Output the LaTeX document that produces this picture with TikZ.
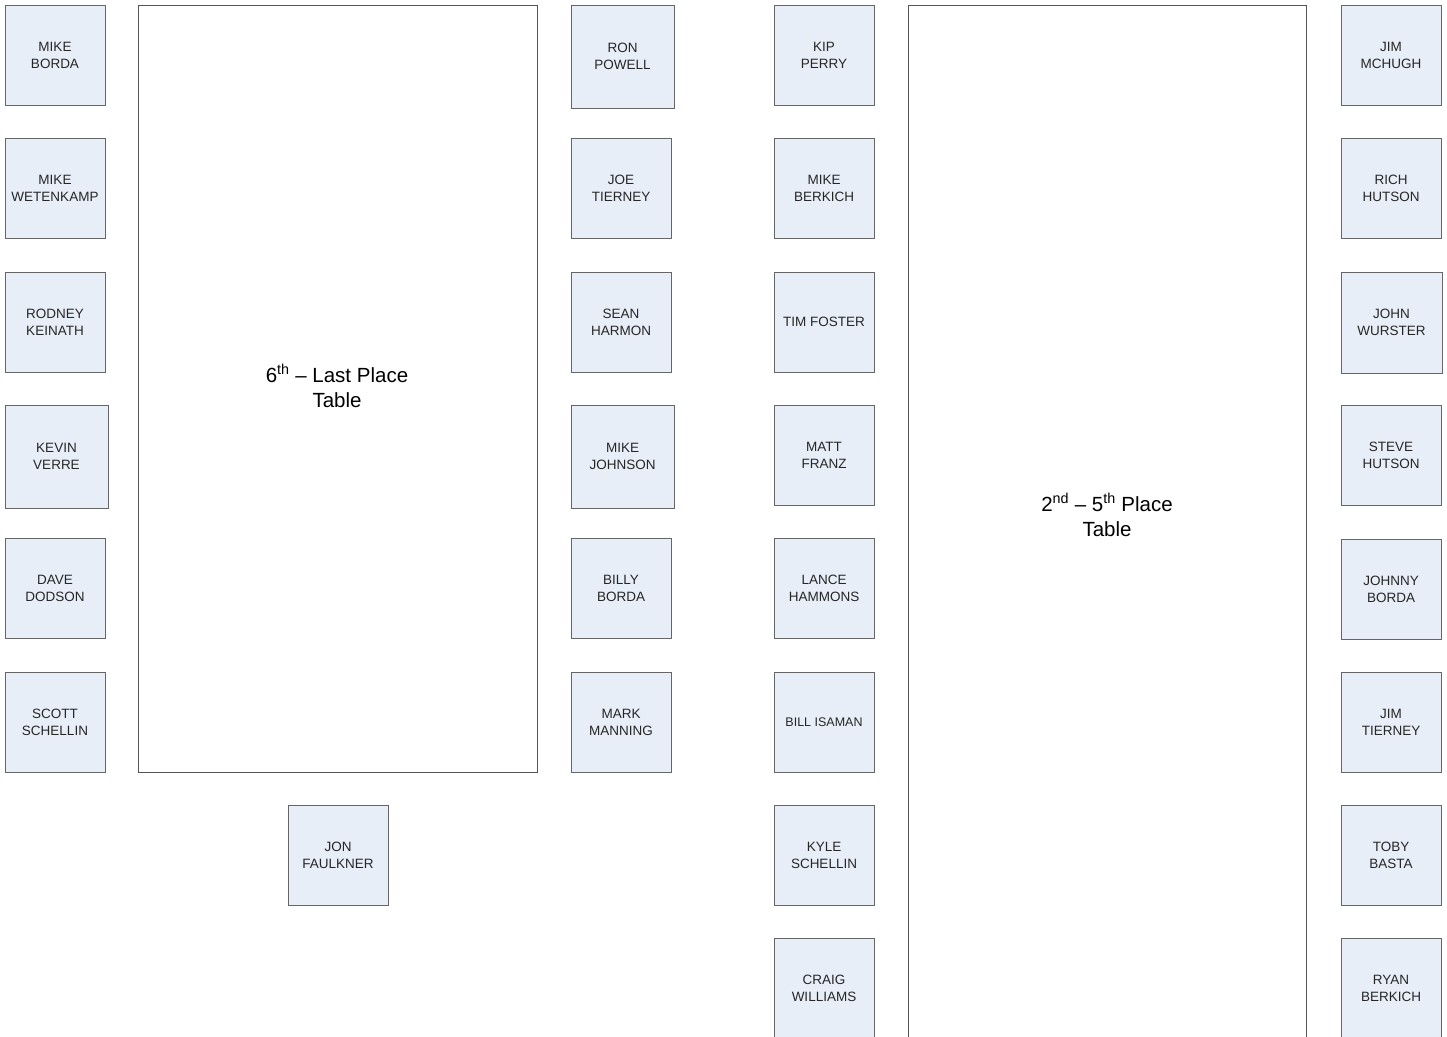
\documentclass[tikz,border=0pt]{standalone}
\usepackage{fontspec}
\setmainfont{Liberation Sans}
\definecolor{seatfill}{HTML}{E8EEF8}
\definecolor{seatline}{HTML}{666666}
\definecolor{tableline}{HTML}{555555}
\definecolor{nametext}{HTML}{262626}
\tikzset{
  seat/.style={draw=seatline, fill=seatfill, line width=0.9pt, rectangle, inner sep=0pt, outer sep=0pt,
    align=center, text=nametext, font=\fontsize{13.5}{17}\selectfont},
  bigtable/.style={draw=tableline, fill=white, line width=0.9pt, rectangle, inner sep=0pt, outer sep=0pt},
  tablelabel/.style={align=center, text=black, font=\fontsize{20.5}{25}\selectfont}
}
\newcommand{\seatbox}[6]{%
  \node[seat, minimum width={#4-#2}, minimum height={#5-#3}] (#1) at ({(#2+#4)/2},{(#3+#5)/2}) {#6};}
\begin{document}
\begin{tikzpicture}[x=1pt,y=-1pt]
\useasboundingbox[fill=white] (0,0) rectangle (1447,1036);
% tables
\node[bigtable, minimum width=399, minimum height=767] (t6) at (337.5,388.5) {};
\node[tablelabel] (t6l) at (337,386) {6\textsuperscript{th} -- Last Place\\Table};
\node[bigtable, minimum width=398, minimum height=1040] (t2) at (1107,525) {};
\node[tablelabel] (t2l) at (1107,515) {2\textsuperscript{nd} -- 5\textsuperscript{th} Place\\Table};
% column 1
\seatbox{a1}{5}{5}{105}{105}{MIKE\\BORDA}
\seatbox{a2}{5}{138}{105}{238}{MIKE\\WETENKAMP}
\seatbox{a3}{5}{272}{105}{372}{RODNEY\\KEINATH}
\seatbox{a4}{5}{405}{108}{508}{KEVIN\\VERRE}
\seatbox{a5}{5}{538}{105}{638}{DAVE\\DODSON}
\seatbox{a6}{5}{672}{105}{772}{SCOTT\\SCHELLIN}
% column 2
\seatbox{b1}{571}{5}{674}{108}{RON\\POWELL}
\seatbox{b2}{571}{138}{671}{238}{JOE\\TIERNEY}
\seatbox{b3}{571}{272}{671}{372}{SEAN\\HARMON}
\seatbox{b4}{571}{405}{674}{508}{MIKE\\JOHNSON}
\seatbox{b5}{571}{538}{671}{638}{BILLY\\BORDA}
\seatbox{b6}{571}{672}{671}{772}{MARK\\MANNING}
% end seat
\seatbox{e1}{288}{805}{388}{905}{JON\\FAULKNER}
% column 3
\seatbox{c1}{774}{5}{874}{105}{KIP\\PERRY}
\seatbox{c2}{774}{138}{874}{238}{MIKE\\BERKICH}
\seatbox{c3}{774}{272}{874}{372}{TIM FOSTER}
\seatbox{c4}{774}{405}{874}{505}{MATT\\FRANZ}
\seatbox{c5}{774}{538}{874}{638}{LANCE\\HAMMONS}
\seatbox{c6}{774}{672}{874}{772}{{\fontsize{12.5}{16}\selectfont BILL ISAMAN}}
\seatbox{c7}{774}{805}{874}{905}{KYLE\\SCHELLIN}
\seatbox{c8}{774}{938}{874}{1038}{CRAIG\\WILLIAMS}
% column 4
\seatbox{d1}{1341}{5}{1441}{105}{JIM\\MCHUGH}
\seatbox{d2}{1341}{138}{1441}{238}{RICH\\HUTSON}
\seatbox{d3}{1341}{272}{1442}{373}{JOHN\\WURSTER}
\seatbox{d4}{1341}{405}{1441}{505}{STEVE\\HUTSON}
\seatbox{d5}{1341}{539}{1441}{639}{JOHNNY\\BORDA}
\seatbox{d6}{1341}{672}{1441}{772}{JIM\\TIERNEY}
\seatbox{d7}{1341}{805}{1441}{905}{TOBY\\BASTA}
\seatbox{d8}{1341}{938}{1441}{1038}{RYAN\\BERKICH}
\end{tikzpicture}
\end{document}
